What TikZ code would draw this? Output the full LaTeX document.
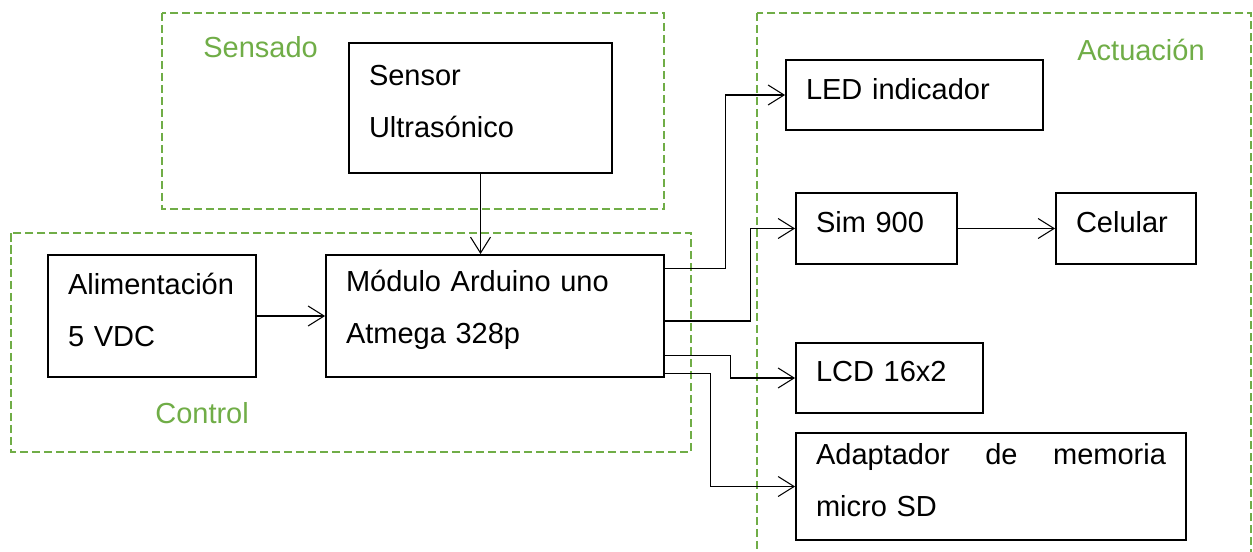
\documentclass[tikz,border=0pt]{standalone}
\usepackage{fontspec}
\setmainfont{Liberation Sans}
\usetikzlibrary{positioning,arrows.meta}
\definecolor{grupoverde}{HTML}{70AD47}

\begin{document}
\begin{tikzpicture}[
  x=0.02cm, y=-0.02cm,
  box/.style={
    draw,
    line width=1.1pt,
    align=left,
    inner xsep=0.4cm,
    text width=#1,
    font=\fontsize{16.5}{29.6}\selectfont,
    execute at end node={\endgraf\vspace*{7pt}}
  },
  arrow/.style={-{Straight Barb[length=0.32cm,width=0.4cm]}, line width=0.6pt},
  group/.style={
    draw=grupoverde,
    line width=1.2pt,
    dash pattern=on 0.17cm off 0.07cm
  },
  grouplabel/.style={
    text=grupoverde,
    anchor=base west,
    inner sep=0pt,
    font=\fontsize{16.5}{20}\selectfont
  }
]
\useasboundingbox (0,0) rectangle (1253,551);

% --------------------
% Groups
% --------------------
\draw[group] (162,13) rectangle (664,209);
\draw[group] (11,233) rectangle (691,452);
\draw[group] (757,13) rectangle (1251,560);

\node[grouplabel] (sensado) at (203,57) {Sensado};
\node[grouplabel] (control) at (155,423) {Control};
\node[grouplabel] (actuacion) at (1077,60) {Actuación};

% --------------------
% Blocks
% --------------------
\node[box=4.46cm, minimum height=2.6cm] (sensor) at (480.5,108) {Sensor\\Ultrasónico};
\node[box=3.36cm, minimum height=2.44cm] (alim) at (152,316) {Alimentación\\5 VDC};
\node[box=5.96cm, minimum height=2.44cm] (modulo) at (495,316)
{Módulo Arduino uno\\Atmega 328p};

\node[box=4.34cm, minimum height=1.4cm] (led) at (914.5,95) {LED indicador};
\node[box=2.42cm, minimum height=1.42cm] (sim) at (876.5,228.5) {Sim 900};
\node[box=2.0cm, minimum height=1.42cm] (celular) at (1126,228.5) {Celular};
\node[box=2.94cm, minimum height=1.4cm] (lcd) at (889.5,378) {LCD 16x2};
\node[box=7.0cm, minimum height=2.14cm] (adapt) at (991,486.5)
{Adaptador\hfill de\hfill memoria\\micro SD};

% --------------------
% Arrows
% --------------------
\draw[arrow] (sensor) -- (sensor |- modulo.north);
\draw[arrow] (alim) -- (modulo);
\draw[arrow] ([shift={(0,14)}]modulo.north east) -- ++(61,0) |- (led);
\draw[arrow] ([shift={(0,5)}]modulo.east) -- ++(86,0) |- (sim);
\draw[arrow] ([shift={(0,-22)}]modulo.south east) -- ++(66,0) |- (lcd);
\draw[arrow] ([shift={(0,-4)}]modulo.south east) -- ++(46,0) |- (adapt);
\draw[arrow] (sim) -- (celular);

\end{tikzpicture}
\end{document}
